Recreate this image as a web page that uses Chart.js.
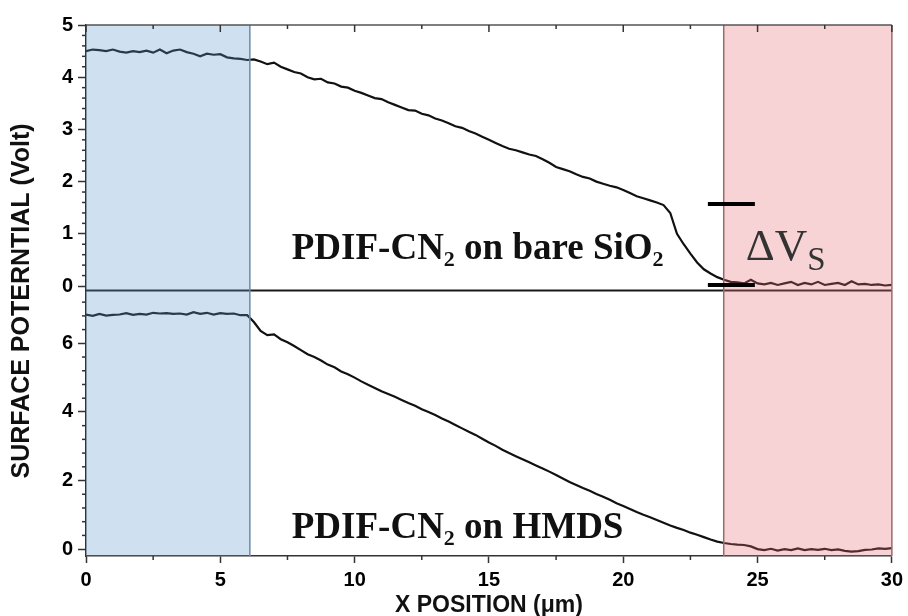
<!DOCTYPE html>
<html>
<head>
<meta charset="utf-8">
<script src="https://cdn.jsdelivr.net/npm/chart.js@4.4.1/dist/chart.umd.min.js"></script>
<style>
  html, body { margin: 0; padding: 0; background: #fff; }
</style>
</head>
<body>
<canvas id="chart" width="908" height="616"></canvas>
<script>
// sampling positions along the scan (um), every 0.25
const xPositions = [];
for (let i = 0; i <= 120; i++) xPositions.push(i / 4);

// surface potential (V)
const bareSiO2 = [
  4.50, 4.53, 4.52, 4.50, 4.53, 4.49, 4.47, 4.50,
  4.48, 4.51, 4.47, 4.53, 4.46, 4.51, 4.53, 4.48,
  4.45, 4.40, 4.45, 4.43, 4.44, 4.38, 4.36, 4.35,
  4.33, 4.34, 4.30, 4.25, 4.28, 4.20, 4.15, 4.10,
  4.07, 4.00, 3.96, 3.97, 3.90, 3.88, 3.82, 3.80,
  3.74, 3.70, 3.65, 3.60, 3.58, 3.52, 3.47, 3.42,
  3.37, 3.36, 3.30, 3.27, 3.21, 3.17, 3.12, 3.06,
  3.03, 2.97, 2.92, 2.86, 2.80, 2.74, 2.68, 2.63,
  2.60, 2.56, 2.52, 2.49, 2.43, 2.36, 2.28, 2.24,
  2.20, 2.14, 2.09, 2.06, 2.00, 1.96, 1.92, 1.89,
  1.84, 1.78, 1.72, 1.68, 1.64, 1.60, 1.55, 1.40,
  1.00, 0.80, 0.62, 0.45, 0.32, 0.24, 0.17, 0.12,
  0.08, 0.07, 0.05, 0.12, 0.05, 0.03, 0.06, 0.02,
  0.05, 0.08, 0.02, 0.06, 0.03, 0.08, 0.02, 0.04,
  0.06, 0.02, 0.09, 0.03, 0.04, 0.02, 0.03, 0.01,
  0.02
];
const hmds = [
  6.84, 6.80, 6.86, 6.81, 6.83, 6.84, 6.88, 6.83,
  6.86, 6.84, 6.89, 6.87, 6.88, 6.86, 6.87, 6.84,
  6.91, 6.86, 6.89, 6.84, 6.88, 6.86, 6.87, 6.82,
  6.82, 6.62, 6.36, 6.24, 6.26, 6.12, 6.03, 5.92,
  5.80, 5.68, 5.60, 5.50, 5.38, 5.30, 5.18, 5.10,
  5.00, 4.89, 4.79, 4.70, 4.60, 4.52, 4.44, 4.35,
  4.26, 4.18, 4.08, 4.00, 3.91, 3.81, 3.72, 3.62,
  3.52, 3.42, 3.33, 3.22, 3.11, 3.01, 2.90, 2.80,
  2.71, 2.62, 2.53, 2.44, 2.35, 2.26, 2.16, 2.06,
  1.96, 1.87, 1.78, 1.70, 1.61, 1.53, 1.44, 1.34,
  1.26, 1.17, 1.08, 1.00, 0.93, 0.85, 0.77, 0.69,
  0.62, 0.56, 0.48, 0.42, 0.35, 0.28, 0.22, 0.18,
  0.15, 0.13, 0.12, 0.08, 0.00, -0.03, 0.01, -0.04,
  0.00, -0.03, 0.02, -0.03, 0.00, -0.02, 0.01, -0.03,
  -0.01, -0.05, -0.07, -0.06, -0.02, -0.01, 0.02, 0.01,
  0.03
];

// ticks
const xTicks = [0, 5, 10, 15, 20, 25, 30];
const xMinorTicks = [2.5, 7.5, 12.5, 17.5, 22.5, 27.5];
const topTicks = [0, 1, 2, 3, 4, 5];
const topMinorStep = 0.2;
const bottomTicks = [0, 2, 4, 6];
const bottomMinorStep = 0.4;

// shaded electrode regions (um)
const blueRegion = [0, 6.1];
const redRegion = [23.74, 30];

// delta V_S markers (x range, levels in top panel volts)
const dvX = [23.15, 24.9];
const dvLevels = [1.57, 0.02];

const tickFont = { family: 'Liberation Sans', size: 20, weight: 'bold' };

function toPoints(vals) {
  return vals.map((v, i) => ({ x: xPositions[i], y: v }));
}

function line(ctx, x1, y1, x2, y2) {
  ctx.beginPath();
  ctx.moveTo(x1, y1);
  ctx.lineTo(x2, y2);
  ctx.stroke();
}

function drawRuns(ctx, x, y, runs) {
  for (const r of runs) {
    ctx.font = r.font;
    ctx.fillText(r.text, x, y + (r.dy || 0));
    x += ctx.measureText(r.text).width;
  }
}

const decorations = {
  id: 'decorations',
  afterDatasetsDraw(chart) {
    const { ctx, chartArea: a, scales } = chart;
    const x = scales.x, yT = scales.yTop, yB = scales.yBot;
    ctx.save();

    // divider between the two panels
    ctx.strokeStyle = '#1a1a1a';
    ctx.lineWidth = 2;
    line(ctx, a.left, yT.bottom, a.right, yT.bottom);

    // shaded regions laid over the curves
    const bx1 = x.getPixelForValue(blueRegion[0]), bx2 = x.getPixelForValue(blueRegion[1]);
    const rx1 = x.getPixelForValue(redRegion[0]), rx2 = x.getPixelForValue(redRegion[1]);
    ctx.fillStyle = 'rgba(95,155,205,0.3)';
    ctx.fillRect(bx1, a.top, bx2 - bx1, a.bottom - a.top);
    ctx.fillStyle = 'rgba(231,108,115,0.3)';
    ctx.fillRect(rx1, a.top, rx2 - rx1, a.bottom - a.top);
    ctx.lineWidth = 1.5;
    ctx.strokeStyle = '#6f8ca6';
    line(ctx, bx2, a.top, bx2, a.bottom);
    ctx.strokeStyle = '#9a6a6a';
    line(ctx, rx1, a.top, rx1, a.bottom);
    line(ctx, rx2, a.top, rx2, a.bottom);

    // top frame line
    ctx.strokeStyle = '#555';
    line(ctx, a.left, a.top, a.right, a.top);

    // minor ticks on the axes, inward ticks on the top edge
    ctx.strokeStyle = '#333';
    ctx.lineWidth = 1.5;
    for (let v = topMinorStep; v < yT.max; v += topMinorStep) {
      const r = Math.round(v * 10) / 10;
      if (topTicks.includes(r)) continue;
      const py = yT.getPixelForValue(r);
      line(ctx, a.left - 4, py, a.left, py);
    }
    for (let v = bottomMinorStep; v < yB.max; v += bottomMinorStep) {
      const r = Math.round(v * 10) / 10;
      if (bottomTicks.includes(r)) continue;
      const py = yB.getPixelForValue(r);
      line(ctx, a.left - 4, py, a.left, py);
    }
    for (const v of xMinorTicks) {
      const px = x.getPixelForValue(v);
      line(ctx, px, a.bottom, px, a.bottom + 4);
      line(ctx, px, a.top, px, a.top + 4);
    }
    for (const v of xTicks) {
      const px = x.getPixelForValue(v);
      line(ctx, px, a.top, px, a.top + 7);
    }

    // delta V_S bars
    ctx.strokeStyle = '#000';
    ctx.lineWidth = 4;
    const dx1 = x.getPixelForValue(dvX[0]), dx2 = x.getPixelForValue(dvX[1]);
    for (const lv of dvLevels) {
      const py = yT.getPixelForValue(lv);
      line(ctx, dx1, py, dx2, py);
    }

    // panel labels
    ctx.fillStyle = '#111';
    ctx.textBaseline = 'alphabetic';
    ctx.textAlign = 'left';
    const big = 'bold 37px "Liberation Serif"', sub = 'bold 22px "Liberation Serif"';
    drawRuns(ctx, x.getPixelForValue(7.66), yT.getPixelForValue(0.52), [
      { text: 'PDIF-CN', font: big },
      { text: '2', font: sub, dy: 7 },
      { text: ' on bare SiO', font: big },
      { text: '2', font: sub, dy: 7 }
    ]);
    drawRuns(ctx, x.getPixelForValue(7.66), yB.getPixelForValue(0.33), [
      { text: 'PDIF-CN', font: big },
      { text: '2', font: sub, dy: 7 },
      { text: ' on HMDS', font: big }
    ]);
    ctx.fillStyle = '#333';
    drawRuns(ctx, x.getPixelForValue(24.56), yT.getPixelForValue(0.5), [
      { text: '\u0394V', font: '45px "Liberation Serif"' },
      { text: 'S', font: '33px "Liberation Serif"', dy: 10 }
    ]);

    // shared y title
    ctx.fillStyle = '#111';
    ctx.font = 'bold 25px "Liberation Sans"';
    ctx.textAlign = 'center';
    ctx.textBaseline = 'middle';
    ctx.translate(22, 301);
    ctx.rotate(-Math.PI / 2);
    ctx.fillText('SURFACE POTERNTIAL (Volt)', 0, 0);
    ctx.restore();
  }
};

function yAxis(min, max, ticks) {
  return {
    type: 'linear',
    position: 'left',
    stack: 'panels',
    stackWeight: 1,
    min: min,
    max: max,
    afterBuildTicks: s => { s.ticks = ticks.map(v => ({ value: v })); },
    afterFit: s => { s.width = 86; },
    grid: { drawOnChartArea: false, tickLength: 8, tickColor: '#333', tickWidth: 1.5 },
    border: { color: '#333', width: 1.5 },
    ticks: { font: tickFont, color: '#000', padding: 5 }
  };
}

new Chart(document.getElementById('chart'), {
  type: 'line',
  data: {
    datasets: [
      {
        label: 'PDIF-CN2 on bare SiO2',
        data: toPoints(bareSiO2),
        yAxisID: 'yTop',
        borderColor: '#111',
        borderWidth: 2.2,
        pointRadius: 0,
        tension: 0
      },
      {
        label: 'PDIF-CN2 on HMDS',
        data: toPoints(hmds),
        yAxisID: 'yBot',
        borderColor: '#111',
        borderWidth: 2.2,
        pointRadius: 0,
        tension: 0
      }
    ]
  },
  options: {
    responsive: false,
    animation: false,
    devicePixelRatio: 1,
    layout: { padding: { left: 0, right: 15, top: 25, bottom: 0 } },
    plugins: { legend: { display: false }, tooltip: { enabled: false } },
    scales: {
      x: {
        type: 'linear',
        min: 0,
        max: 30,
        afterBuildTicks: s => { s.ticks = xTicks.map(v => ({ value: v })); },
        afterFit: s => { s.height = 60; },
        grid: { drawOnChartArea: false, tickLength: 7, tickColor: '#333', tickWidth: 1.5 },
        border: { color: '#333', width: 1.5 },
        ticks: { font: tickFont, color: '#000', padding: 5, maxRotation: 0 },
        title: {
          display: true,
          text: 'X POSITION (\u03bcm)',
          color: '#111',
          font: { family: 'Liberation Sans', size: 23, weight: 'bold' },
          padding: { top: 0, bottom: -3 }
        }
      },
      yBot: yAxis(-0.2, 7.54, bottomTicks),
      yTop: yAxis(-0.086, 5, topTicks)
    }
  },
  plugins: [decorations]
});
</script>
</body>
</html>
